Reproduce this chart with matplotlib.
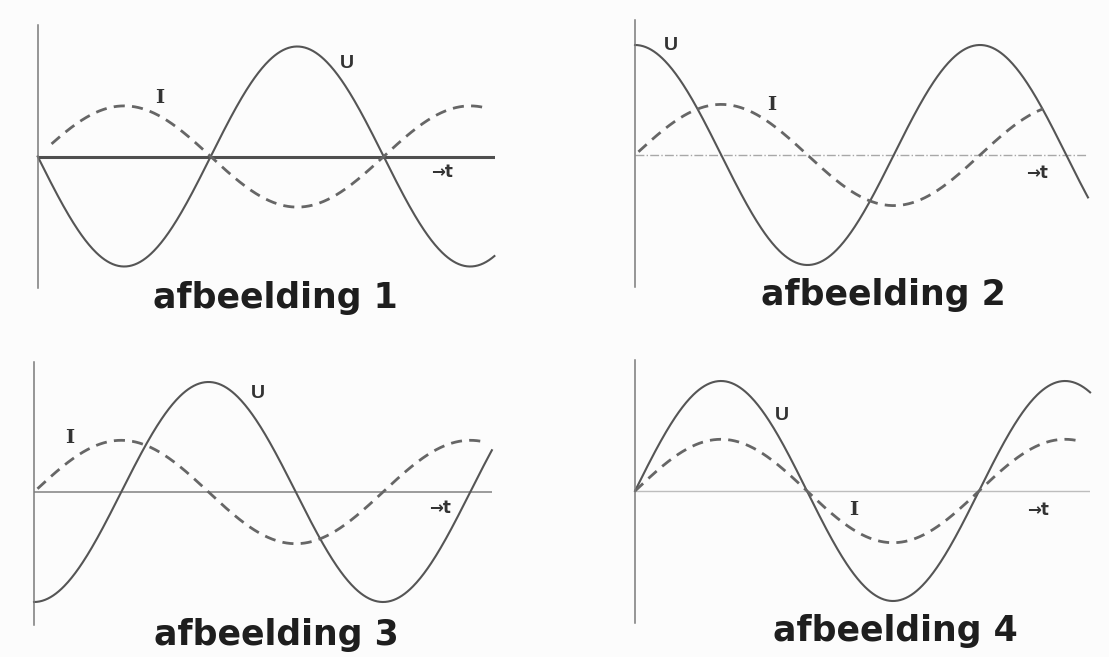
import numpy as np
import matplotlib.pyplot as plt

W, H = 1109, 657

# data: phase (degrees) and amplitude of U and I, relative to U amplitude
titles = ['afbeelding 1', 'afbeelding 2', 'afbeelding 3', 'afbeelding 4']
u_phase = [180, 90, -90, 0]
u_amp = [1.0, 1.0, 1.0, 1.0]
i_phase = [0, 0, 0, 0]
i_amp = [0.46, 0.46, 0.47, 0.47]
# visible time span in periods
u_span = [(0.0, 1.32), (0.0, 1.313), (0.0, 1.312), (0.0, 1.323)]
i_span = [(0.04, 1.29), (0.01, 1.183), (0.01, 1.287), (0.0, 1.294)]

# layout of each panel in pixels
origin_x = [37.7, 635, 34, 635]
axis_y = [156.5, 155, 492, 491]
period_px = [346, 345, 349, 344]
top_px = [25, 20, 362, 360]
bottom_px = [288, 287, 625, 623]
right_px = [495, 1088, 492, 1090]
amp_px = 110

# label positions (t in periods, y in U amplitudes)
u_label = [(0.894, 0.85), (0.104, 1.0), (0.642, 0.90), (0.427, 0.69)]
i_label = [(0.353, 0.53), (0.397, 0.45), (0.103, 0.49), (0.637, -0.17)]
t_label = [(1.169, -0.14), (1.165, -0.16), (1.163, -0.145), (1.172, -0.17)]
title_pos = [(275, 308), (883, 305), (276, 645), (895, 641)]

haxis_style = [dict(color='#4f4f4f', lw=2.2),
               dict(color='#a8a8a8', lw=1.0, ls='-.'),
               dict(color='#8a8a8a', lw=1.2),
               dict(color='#bdbdbd', lw=1.0)]

fig = plt.figure(figsize=(W / 100, H / 100), dpi=100)
fig.patch.set_facecolor('#fcfcfc')

for k in range(4):
    x0, yc, per = origin_x[k], axis_y[k], period_px[k]
    ax = fig.add_axes([x0 / W, 1 - bottom_px[k] / H,
                       (right_px[k] - x0) / W, (bottom_px[k] - top_px[k]) / H])
    ax.set_facecolor('none')
    ax.set_xlim(0, (right_px[k] - x0) / per)
    ax.set_ylim(-(bottom_px[k] - yc) / amp_px, (yc - top_px[k]) / amp_px)
    for side in ['top', 'right', 'bottom']:
        ax.spines[side].set_visible(False)
    ax.spines['left'].set_color('#7a7a7a')
    ax.spines['left'].set_linewidth(1.1)
    ax.set_xticks([])
    ax.set_yticks([])

    ax.axhline(0, **haxis_style[k])

    t = np.linspace(u_span[k][0], u_span[k][1], 500)
    ax.plot(t, u_amp[k] * np.sin(2 * np.pi * t + np.radians(u_phase[k])),
            color='#555555', lw=1.5, clip_on=False)
    ti = np.linspace(i_span[k][0], i_span[k][1], 500)
    ax.plot(ti, i_amp[k] * np.sin(2 * np.pi * ti + np.radians(i_phase[k])),
            color='#666666', lw=2.0, dashes=(4, 2.6), clip_on=False)

    ax.text(*u_label[k], 'U', fontsize=14, fontweight='bold', family='Liberation Sans',
            color='#333333', ha='center', va='center')
    ax.text(*i_label[k], 'I', fontsize=14, fontweight='bold', family='DejaVu Serif',
            color='#333333', ha='center', va='center')
    ax.text(*t_label[k], '→t', fontsize=12, fontweight='bold', family='DejaVu Sans',
            color='#333333', ha='center', va='center')

    fig.text(title_pos[k][0] / W, 1 - title_pos[k][1] / H, titles[k],
             fontsize=25, fontweight='bold', family='DejaVu Sans', color='#1e1e1e',
             ha='center', va='baseline')

fig.savefig('out.png', dpi=100, facecolor=fig.get_facecolor())
